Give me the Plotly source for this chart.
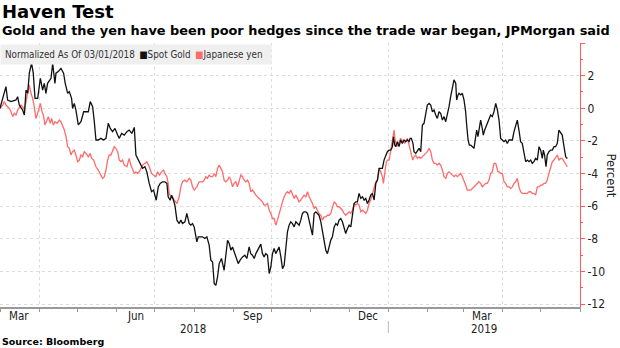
import pandas as pd
import plotly.graph_objects as go

# ---- data (day offsets from the normalization date 2018-03-01, percent change) ----
BASE_DATE = "2018-03-01"

gold_days = [0, 4.7, 6.0, 8.7, 12.6, 13.9, 15.2, 17.8, 19.2, 20.5, 21.8, 23.1, 24.9, 26.2, 27.6, 29.7,
             31.8, 33.6, 34.9, 36.2, 37.5, 40.2, 41.5, 43.3, 44.1, 45.9, 48.0, 50.1, 51.4, 53.3, 54.6,
             56.4, 57.2, 58.5, 59.8, 61.7, 63.8, 65.9, 67.7, 69.6, 71.1, 73.0, 74.3, 75.6, 77.4, 79.5,
             81.6, 83.5, 85.3, 86.9, 88.7, 90.6, 92.7, 94.0, 95.8, 97.9, 100.0, 101.8, 103.9, 105.8,
             107.1, 108.4, 110.5, 112.3, 114.2, 115.7, 117.6, 119.4, 121.0, 123.1, 124.7, 126.2, 128.1,
             129.9, 131.5, 132.5, 134.1, 135.2, 136.7, 137.8, 139.4, 141.2, 142.5, 143.8, 145.7, 147.2,
             149.1, 150.4, 151.7, 153.0, 155.1, 156.2, 158.3,
             159.6, 161.4, 163.0, 164.8, 166.1, 167.5, 168.8, 170.1, 171.4, 172.7, 174.5, 176.6, 177.9,
             179.3, 180.6, 181.9, 183.2, 184.5, 185.8, 187.7, 189.2, 191.1, 192.9, 194.5, 196.3, 197.6,
             198.9, 200.3, 201.6, 202.9, 204.2, 205.5, 206.8, 208.1, 209.4, 210.8, 212.1, 213.4, 214.7,
             216.0, 217.3, 218.6, 219.9, 221.3, 222.6, 223.9, 225.2, 226.5, 227.8, 229.1, 230.4, 231.8,
             233.1, 234.4, 235.7, 237.0, 238.3, 239.6, 241.0, 242.3, 243.6, 244.9, 246.2, 247.5, 248.8,
             250.1, 251.4, 252.8, 254.1, 255.4, 256.7, 258.0, 259.3, 260.6, 261.9, 263.3, 264.6, 265.9,
             267.2, 268.5, 269.8, 271.1, 272.4, 273.8, 275.1, 276.4, 277.7, 279.0, 280.3, 281.6, 282.9,
             284.3, 285.6, 286.9, 288.2, 289.5, 290.8, 292.1, 293.4, 294.8, 296.1, 297.4, 298.7,
             300.0, 301.3, 302.6, 303.9, 305.2, 306.6, 307.9, 309.2, 310.0, 311.0, 311.8, 313.1, 314.4,
             315.7, 317.0, 318.4, 319.7, 321.0, 322.3, 323.1, 324.1, 325.4, 326.2, 327.6, 328.9, 330.2,
             331.5, 332.8, 334.1, 335.4, 336.7, 338.1, 339.4, 340.7, 342.0, 343.3, 344.6, 345.9, 347.2,
             348.6, 349.9, 351.2, 352.5, 353.8, 355.1, 356.4, 357.7, 359.1, 359.8, 360.9, 361.7, 363.0,
             364.3, 365.6, 366.9, 367.7, 368.8, 369.8, 370.9, 372.2, 373.5, 374.8, 375.6, 376.6, 377.4,
             378.7, 380.0, 380.8, 381.9, 382.9, 384.0, 385.3, 386.6, 387.9, 389.2, 390.6, 391.9, 393.2,
             394.5, 395.8, 397.1, 398.4, 399.7, 401.0, 402.4, 403.7, 405.0, 406.3, 407.6, 408.9, 410.2,
             411.5, 412.9, 414.2, 415.5, 416.8, 418.1, 419.4, 420.7, 422.0, 423.4, 424.7, 426.0, 427.3,
             428.1, 429.1, 430.2, 431.2, 432.5, 433.9, 435.2, 436.5, 437.8, 439.1, 440.4, 441.7, 443.0,
             444.4, 445.7, 447.0]
gold_pct = [0.0, 1.33, 0.51, 0.41, 0.51, 0.71, 0.2, -0.1, -0.41, 1.12, 0.92, 2.15, 2.76, 2.15, 0.61, 0.61,
            1.84, 1.12, 1.53, 0.92, 1.53, 1.84, 2.76, 1.53, 2.15, 2.25, 2.45, 2.15, 1.53, 0.92, 1.02,
            0.61, 0.0, 0.3, -0.1, -1.02, -0.82, -0.21, -0.21, -0.21, 0.41, 0.1, -0.82, -1.94, -1.94, -1.84,
            -1.94, -1.84, -0.92, -1.23, -1.43, -1.23, -1.64, -1.84, -1.54, -1.64, -1.43, -1.33, -1.54, -1.17,
            -2.86, -3.07, -3.48, -3.68, -3.58, -3.89, -4.6, -5.11, -5.01, -5.63, -4.81, -4.6, -4.5,
            -4.5, -4.6, -5.42, -5.63, -5.32, -5.63, -5.93, -6.85, -7.06, -6.85, -7.06, -6.95, -6.44,
            -7.06, -7.16, -7.06, -7.26, -8.18, -7.87, -7.87,
            -7.87, -7.97, -7.87, -8.38, -9.3, -9.41, -10.74, -10.84, -10.33, -9.51, -9.2, -9.92, -8.9,
            -8.08, -8.28, -8.69, -8.49, -8.79, -9.0, -9.51, -9.3, -9.1, -9.0, -9.2, -8.49, -8.9,
            -9.0, -9.2, -8.9, -8.69, -8.49, -8.32, -8.9, -9.1, -8.9, -9.0, -10.12, -9.71, -8.9,
            -8.59, -8.9, -8.69, -8.49, -9.1, -9.82, -9.61, -8.49, -7.57, -7.16, -6.95, -7.06, -7.26,
            -6.95, -7.06, -7.16, -6.85, -6.44, -6.34, -6.34, -6.44, -6.95, -7.46, -7.77, -6.44, -6.34,
            -6.44, -6.55, -6.95, -7.57, -8.08, -8.69, -8.9, -8.49, -8.08, -7.87, -7.26, -7.06, -7.16,
            -6.85, -6.75, -6.95, -7.26, -7.67, -7.36, -7.16, -7.26, -6.65, -5.83, -5.73, -5.73, -5.21,
            -5.52, -5.42, -5.62, -5.52, -5.83, -5.62, -5.32, -5.21, -5.62, -4.6, -4.4, -3.68,
            -3.68, -3.68, -3.17, -2.86, -2.66, -2.56, -2.56, -2.35, -1.74, -2.25, -2.35, -2.04, -2.35,
            -1.94, -2.15, -1.94, -2.04, -1.94, -2.04, -1.84, -1.84, -2.15, -2.66, -2.76, -2.56, -2.45,
            -2.66, -1.02, -0.92, -0.31, 0.2, 0.3, 0.2, -0.21, -0.1, -0.41, -0.62, -0.21, -0.31,
            -0.72, -0.51, -0.82, -0.41, 0.1, 0.71, 1.22, 1.74, 1.53, 0.51, 0.82, 0.92, 0.82,
            0.92, 0.51, -0.21, -1.02, -1.94, -2.25, -2.25, -2.35, -2.45, -1.74, -1.33, -1.74, -1.43,
            -0.72, -1.23, -1.64, -1.33, -1.12, -0.92, -0.72, -0.41, -0.51, -0.21, 0.3, -0.1, -0.72,
            -1.84, -1.94, -2.04, -1.94, -2.15, -1.94, -1.94, -1.94, -1.43, -1.02, -0.72, -1.33, -2.04,
            -2.15, -2.86, -3.27, -3.17, -3.27, -3.17, -3.37, -3.27, -3.07, -3.17, -2.35, -2.56, -3.07,
            -2.56, -2.86, -3.58, -2.86, -2.66, -2.56, -2.56, -2.35, -2.35, -2.15, -1.33, -1.53, -1.64,
            -2.35, -2.97, -3.07]

yen_days = [0, 2.1, 3.4, 4.7, 6.0, 7.3, 8.7, 10.0, 11.3, 12.6, 13.9, 15.2, 16.5, 17.8, 19.2, 20.5, 21.8,
            23.1, 24.4, 25.7, 27.0, 28.3, 29.7, 31.0, 31.8, 32.8, 34.4, 35.4, 36.7, 38.1, 39.6, 40.7,
            42.0, 43.3, 44.9, 46.7, 48.0, 49.3, 50.7, 52.0, 53.3, 54.6, 55.9, 57.2, 58.5, 59.8, 61.2,
            62.5, 63.8, 65.1, 66.4, 67.7, 69.6, 71.1, 72.2, 73.8, 75.6, 77.4, 79.0, 80.8, 82.2, 83.5,
            84.8, 86.1, 87.4, 88.7, 90.0, 91.3, 92.7, 94.0, 95.3, 96.6, 97.9, 100.0, 101.8, 103.1,
            104.4, 105.8, 107.1, 108.4, 109.7, 111.0, 112.3, 114.2, 115.7, 117.6, 119.4, 121.0, 122.8,
            124.1, 125.7, 127.3, 128.9, 129.9, 131.5, 132.5, 133.3, 134.6, 136.0, 137.3, 139.4, 141.2,
            142.5, 143.8, 145.7, 147.2, 149.1, 150.4, 151.7, 153.0, 155.1, 156.9, 158.3,
            159.6, 160.9, 162.2, 163.5, 164.8, 166.1, 167.5, 168.8, 170.1, 171.4, 172.7, 174.0, 175.3,
            176.6, 177.9, 179.3, 180.6, 181.9, 183.2, 184.5, 185.8, 187.1, 188.5, 189.8, 191.1, 192.4,
            193.7, 195.0, 196.3, 197.6, 199.0, 200.3, 201.6, 202.9, 204.2, 205.5, 206.8, 208.1, 209.4,
            210.8, 212.1, 213.4, 214.7, 216.0, 217.3, 218.6, 219.9, 221.3, 222.6, 223.9, 225.2, 226.5,
            227.8, 229.1, 230.4, 231.8, 233.1, 234.4, 235.7, 237.0, 238.3, 239.6, 241.0, 242.3, 243.6,
            244.9, 246.2, 247.5, 248.8, 250.1, 251.4, 252.8, 254.1, 255.4, 256.7, 258.0, 259.3, 260.6,
            261.9, 263.3, 264.6, 265.9, 267.2, 268.5, 269.8, 271.1, 272.4, 273.8, 275.1, 276.4, 277.7,
            279.0, 280.3, 281.6, 282.9, 284.3, 285.6, 286.9, 288.2, 289.5, 290.8, 292.1, 293.4, 294.8,
            296.1, 297.4, 298.7,
            300.0, 301.3, 302.1, 303.1, 304.2, 305.2, 306.6, 307.3, 308.4, 309.4, 310.5, 311.3, 312.6,
            313.6, 314.7, 315.7, 316.8, 317.8, 318.9, 320.0, 321.0, 322.0, 323.1, 324.1, 325.2, 326.2,
            327.6, 328.9, 330.2, 331.5, 332.8, 334.1, 335.4, 336.7, 338.1, 339.4, 340.7, 342.0, 343.3,
            344.6, 345.9, 347.2, 348.6, 349.9, 351.2, 352.5, 353.8, 355.1, 356.4, 357.7, 359.1, 360.4,
            361.7, 363.0, 364.3, 365.6, 366.9, 368.2, 369.6, 370.9, 372.2, 373.5, 374.8, 376.1, 377.4,
            378.7, 380.0, 381.4, 382.7, 384.0, 385.3, 386.6, 387.9, 389.2, 390.6, 391.3, 392.4, 393.4,
            394.5, 395.8, 397.1, 398.4, 399.7, 401.0, 402.4, 403.7, 405.0, 406.3, 407.6, 408.9, 410.2,
            411.5, 412.9, 414.2, 415.5, 416.8, 418.1, 419.4, 420.7, 422.0, 423.4, 424.7, 426.0, 427.3,
            428.6, 429.9, 431.2, 432.5, 433.9, 435.2, 436.5, 437.8, 439.1, 440.4, 441.7, 443.0, 444.4,
            445.7, 447.0]
yen_pct = [0.0, 0.2, 0.41, 0.2, 0.1, 0.0, -0.21, -0.51, -0.31, -0.41, -0.1, 0.1, 0.2, 0.1, -0.1, 0.41, 0.92,
           1.43, 0.92, 0.61, 0.1, -0.62, -0.31, 0.0, 0.3, -0.1, -0.51, -1.02, -0.82, -0.51, -0.92, -0.62,
           -1.02, -0.82, -0.92, -0.72, -0.82, -1.02, -1.33, -1.74, -2.35, -2.45, -2.86, -2.66, -2.56, -2.86, -3.27,
           -3.17, -2.86, -2.97, -2.66, -2.76, -2.97, -2.76, -3.07, -3.17, -3.58, -3.78, -3.99, -4.29, -4.19, -3.78,
           -3.17, -2.86, -2.86, -2.56, -2.35, -2.45, -2.66, -3.17, -3.27, -3.17, -3.48, -3.58, -3.07, -3.48,
           -3.78, -3.99, -3.89, -3.99, -3.89, -3.68, -3.48, -3.37, -3.27, -3.58, -3.99, -4.09, -4.19,
           -3.89, -4.09, -3.89, -3.78, -3.99, -4.19, -4.6, -5.21, -5.42, -5.42, -5.62, -5.83, -5.42,
           -4.81, -4.5, -4.4, -4.5, -4.29, -4.4, -4.81, -5.01, -4.81, -4.5, -4.5,
           -4.5, -4.4, -4.19, -4.29, -4.09, -4.19, -4.19, -3.99, -4.19, -3.68, -3.48, -3.68, -3.89,
           -4.4, -4.5, -4.4, -4.19, -4.4, -4.81, -4.6, -4.5, -4.81, -4.5, -4.09, -4.19, -4.4,
           -4.5, -4.4, -4.6, -5.11, -5.01, -5.21, -5.32, -5.42, -5.52, -5.62, -5.73, -5.93, -5.93,
           -5.83, -6.24, -6.44, -6.75, -6.75, -7.16, -6.85, -6.44, -6.13, -5.73, -5.42, -5.21, -5.11,
           -5.21, -5.01, -5.32, -5.52, -5.32, -5.52, -5.73, -5.62, -5.42, -5.32, -5.42, -5.11, -5.42,
           -5.62, -5.83, -6.13, -6.03, -6.24, -6.44, -6.55, -6.85, -6.65, -6.65, -6.55, -6.55, -6.44,
           -6.13, -5.73, -5.83, -6.03, -6.03, -6.13, -6.24, -6.44, -6.55, -6.44, -6.34, -6.44, -6.24,
           -5.83, -5.93, -5.83, -5.93, -6.34, -6.24, -6.34, -6.44, -6.24, -5.83, -5.62, -5.21, -4.81,
           -4.5, -4.4, -3.68,
           -3.89, -4.19, -4.6, -3.99, -3.37, -3.17, -3.17, -2.86, -2.35, -2.04, -1.33, -1.94, -2.35,
           -2.15, -2.04, -1.84, -2.04, -1.94, -2.15, -1.94, -1.84, -2.15, -2.45, -2.76, -3.17, -2.97,
           -2.86, -3.07, -2.97, -3.07, -2.97, -2.86, -2.76, -2.66, -2.45, -2.66, -3.17, -3.37, -3.37,
           -3.48, -3.37, -3.48, -3.78, -4.19, -4.29, -3.99, -3.89, -3.99, -4.09, -4.19, -4.09, -4.19,
           -4.09, -3.99, -4.19, -4.4, -4.7, -5.01, -5.01, -5.01, -4.91, -4.81, -4.7, -4.6, -4.5,
           -4.6, -4.81, -4.7, -4.6, -4.6, -4.4, -3.99, -3.89, -3.37, -3.37, -3.58, -3.89, -3.89,
           -3.99, -3.99, -4.5, -4.6, -4.81, -4.81, -4.91, -4.81, -4.6, -4.5, -4.29, -4.81, -5.11,
           -5.21, -5.21, -5.21, -5.21, -5.11, -5.11, -5.21, -5.21, -5.32, -4.81, -4.81, -4.7, -4.7,
           -4.6, -4.6, -4.4, -3.99, -3.58, -3.27, -3.17, -2.97, -2.86, -3.17, -3.07, -3.07, -3.27,
           -3.48, -3.58]

y_tick_values = [-12, -10, -8, -6, -4, -2, 0, 2, 4]
y_tick_labels = ["-12", "-10", "-8", "-6", "-4", "-2", "0", "2", ""]
quarter_starts = ["2018-04-01", "2018-07-01", "2018-10-01", "2019-01-01", "2019-04-01"]
month_labels = ["Mar", "Jun", "Sep", "Dec", "Mar"]
month_label_dates = ["2018-03-16", "2018-06-16", "2018-09-16", "2018-12-16", "2019-03-16"]
year_labels = ["2018", "2019"]
year_label_dates = ["2018-07-31", "2019-03-17"]
year_break = "2019-01-01"
x_range = ["2018-03-01", "2019-06-01"]
y_range = [-12.17, 4.0]

GOLD_COLOR = "#111111"
YEN_COLOR = "#ff6b6b"
AXIS_RED = "#ff5a5a"
NARROW = "Liberation Sans Narrow, DejaVu Sans Condensed, Arial Narrow, sans-serif"
BOLD = "DejaVu Sans, Verdana, sans-serif"

base = pd.Timestamp(BASE_DATE)
gold_x = [base + pd.to_timedelta(d, unit="D") for d in gold_days]
yen_x = [base + pd.to_timedelta(d, unit="D") for d in yen_days]

fig = go.Figure()
fig.add_trace(go.Scatter(x=yen_x, y=yen_pct, mode="lines", name="Japanese yen",
                         line=dict(color=YEN_COLOR, width=1.3)))
fig.add_trace(go.Scatter(x=gold_x, y=gold_pct, mode="lines", name="Spot Gold",
                         line=dict(color=GOLD_COLOR, width=1.3)))

fig.update_layout(
    width=620, height=348,
    margin=dict(l=0, r=40, t=43, b=41),
    paper_bgcolor="white", plot_bgcolor="white",
    showlegend=False,
    font=dict(family=NARROW, size=11, color="#222222"),
    xaxis=dict(
        type="date", range=x_range,
        tickvals=quarter_starts, showticklabels=False,
        ticks="outside", ticklen=3, tickcolor="#999999",
        showgrid=True, gridcolor="#dddddd", griddash="dot", gridwidth=1,
        showline=True, linecolor="#999999", linewidth=2,
        minor=dict(dtick="M1", tick0="2018-03-01", ticks="outside", ticklen=3,
                   tickcolor="#999999", showgrid=False),
        zeroline=False,
    ),
    yaxis=dict(
        side="right", range=y_range,
        tickvals=y_tick_values, ticktext=y_tick_labels,
        ticks="outside", ticklen=4, tickcolor=AXIS_RED,
        showline=True, linecolor=AXIS_RED, linewidth=1,
        showgrid=True, gridcolor="#dddddd", griddash="dot", gridwidth=1,
        zeroline=False,
        minor=dict(dtick=1, tick0=0, ticks="outside", ticklen=2, tickcolor=AXIS_RED, showgrid=False),
        tickfont=dict(family=NARROW, size=12, color="#222222"),
    ),
)

SP = "\u2002"
annotations = []
# Titles
annotations.append(dict(text="<b>Haven Test</b>", xref="paper", yref="paper", x=0, y=1,
                        xanchor="left", yanchor="top", showarrow=False,
                        font=dict(family=BOLD, size=18, color="black"),
                        yshift=44))
annotations.append(dict(text="<b>Gold and the yen have been poor hedges since the trade war began, JPMorgan said</b>",
                        xref="paper", yref="paper", x=0, y=1, xanchor="left", yanchor="top",
                        showarrow=False, font=dict(family=BOLD, size=12.9, color="black"),
                        yshift=22))
# Legend box
annotations.append(dict(
    text=("Normalized As Of 03/01/2018" + SP + "<span style='color:%s'>■</span>Spot Gold" + SP +
          "<span style='color:%s'>■</span>Japanese yen" + SP) % (GOLD_COLOR, YEN_COLOR),
    xref="paper", yref="paper", x=0, y=1, xanchor="left", yanchor="top", showarrow=False,
    font=dict(family=NARROW, size=9.8, color="#333333"),
    bgcolor="#efefef", borderpad=4, yshift=-1))
# Month labels
for lab, d in zip(month_labels, month_label_dates):
    annotations.append(dict(text=lab, x=d, xref="x", yref="paper", y=0, yanchor="top",
                            showarrow=False, yshift=0, font=dict(family=NARROW, size=11.5, color="#222222")))
for lab, d in zip(year_labels, year_label_dates):
    annotations.append(dict(text=lab, x=d, xref="x", yref="paper", y=0, yanchor="top",
                            showarrow=False, yshift=-13, font=dict(family=NARROW, size=11.5, color="#222222")))
# Axis title
annotations.append(dict(text="Percent", xref="paper", yref="paper", x=1, y=0.5, xanchor="left",
                        yanchor="middle", xshift=22, showarrow=False, textangle=90,
                        font=dict(family=NARROW, size=13, color="#222222")))
# Source
annotations.append(dict(text="<b>Source: Bloomberg</b>", xref="paper", yref="paper", x=0, y=0,
                        xanchor="left", yanchor="top", yshift=-27, showarrow=False,
                        font=dict(family=BOLD, size=9.5, color="black")))
fig.update_layout(annotations=annotations)

# year separator tick
fig.add_shape(type="line", xref="x", yref="paper", x0=year_break, x1=year_break,
              y0=-14 / 264, y1=-26 / 264, line=dict(color="#bbbbbb", width=1))

fig.write_html("out.html")
